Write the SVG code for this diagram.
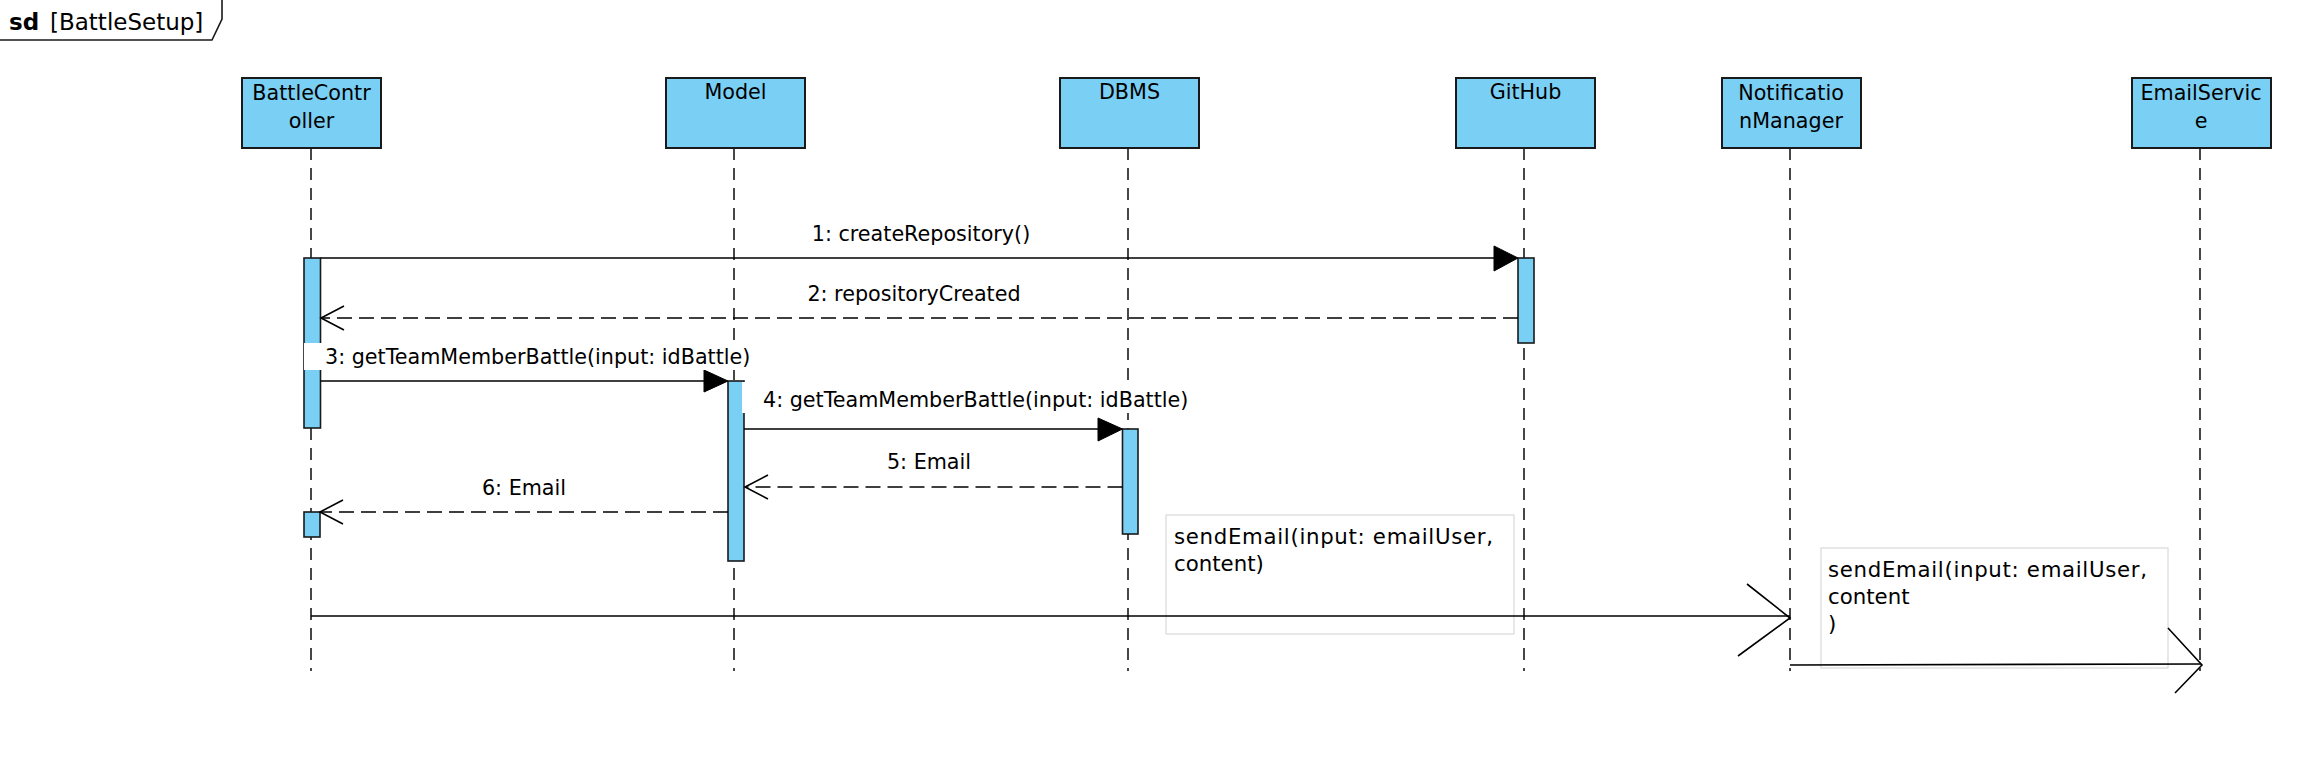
<svg xmlns="http://www.w3.org/2000/svg" width="2312" height="762" viewBox="0 0 2312 762">
<style>
text{font-family:"DejaVu Sans","Liberation Sans",sans-serif;fill:#000}
.hd{fill:#7acff4;stroke:#1a1a1a;stroke-width:2}
.bar{fill:#7acff4;stroke:#1a1a1a;stroke-width:1.6}
.ll{stroke:#1a1a1a;stroke-width:1.6;stroke-dasharray:12 8;fill:none}
.nt{font-size:20.7px;text-anchor:middle}
.msg{stroke:#000;stroke-width:1.6;fill:none}
.ret{stroke:#000;stroke-width:1.6;fill:none;stroke-dasharray:15 7}
.arm{stroke:#000;stroke-width:1.6;fill:none}
.tri{fill:#000;stroke:#000;stroke-width:1}
.lb{font-size:20.7px}
.lbm{font-size:20.7px;text-anchor:middle}
.note{fill:#fff;stroke:#d9d9d9;stroke-width:1.2}
.ntx{font-size:21.3px}
</style>
<rect width="2312" height="762" fill="#fff"/>
<g id="frame">
<polyline points="0,40 212,40 222,19 222,0" fill="none" stroke="#1a1a1a" stroke-width="1.6"/>
<text x="9" y="30" font-size="23" font-weight="bold">sd</text>
<text x="50" y="30" font-size="23">[BattleSetup]</text>
</g>
<g id="BattleController">
<line class="ll" x1="311" y1="148" x2="311" y2="671"/>
<rect class="hd" x="242" y="78" width="139" height="70"/>
<text class="nt" x="311.5" y="100">BattleContr</text>
<text class="nt" x="311.5" y="128">oller</text>
<rect class="bar" x="304" y="258" width="16.5" height="170"/>
<rect class="bar" x="304" y="512" width="16" height="25"/>
</g>
<g id="Model">
<line class="ll" x1="734" y1="148" x2="734" y2="671"/>
<rect class="hd" x="666" y="78" width="139" height="70"/>
<text class="nt" x="735.5" y="99">Model</text>
<rect class="bar" x="728" y="381" width="16" height="180"/>
</g>
<g id="DBMS">
<line class="ll" x1="1128" y1="148" x2="1128" y2="671"/>
<rect class="hd" x="1060" y="78" width="139" height="70"/>
<text class="nt" x="1129.5" y="99">DBMS</text>
<rect class="bar" x="1122.5" y="429" width="15.5" height="105"/>
</g>
<g id="GitHub">
<line class="ll" x1="1524" y1="148" x2="1524" y2="671"/>
<rect class="hd" x="1456" y="78" width="139" height="70"/>
<text class="nt" x="1525.5" y="99">GitHub</text>
<rect class="bar" x="1518" y="258" width="16" height="85"/>
</g>
<g id="NotificationManager">
<line class="ll" x1="1790" y1="148" x2="1790" y2="671"/>
<rect class="hd" x="1722" y="78" width="139" height="70"/>
<text class="nt" x="1791" y="100">Notificatio</text>
<text class="nt" x="1791" y="128">nManager</text>
</g>
<g id="EmailService">
<line class="ll" x1="2200" y1="148" x2="2200" y2="671"/>
<rect class="hd" x="2132" y="78" width="139" height="70"/>
<text class="nt" x="2201" y="100">EmailServic</text>
<text class="nt" x="2201" y="128">e</text>
</g>
<g id="note1">
<rect class="note" x="1166" y="515" width="348" height="119"/>
<text class="ntx" x="1174" y="544" textLength="319" lengthAdjust="spacing">sendEmail(input: emailUser,</text>
<text class="ntx" x="1174" y="571">content)</text>
</g>
<g id="note2">
<rect class="note" x="1821" y="548" width="347" height="120"/>
<text class="ntx" x="1828" y="577" textLength="319" lengthAdjust="spacing">sendEmail(input: emailUser,</text>
<text class="ntx" x="1828" y="604">content</text>
<text class="ntx" x="1828" y="631">)</text>
</g>
<g id="connectors">
<g id="m1">
<line class="msg" x1="320.5" y1="258" x2="1500" y2="258"/>
<polygon class="tri" points="1494,246 1518,258 1494,271"/>
<text class="lbm" x="921" y="241">1: createRepository()</text>
</g>
<g id="m2">
<line class="ret" x1="1518" y1="318" x2="322" y2="318"/>
<polyline class="arm" points="344,306 321,318 344,330"/>
<text class="lbm" x="914" y="301">2: repositoryCreated</text>
</g>
<g id="m3">
<line class="msg" x1="320.5" y1="381" x2="710" y2="381"/>
<polygon class="tri" points="704,370 728,381 704,392"/>
<rect x="304" y="343" width="453" height="27" fill="#fff"/>
<text class="lb" x="325" y="364">3: getTeamMemberBattle(input: idBattle)</text>
</g>
<g id="m4">
<line class="msg" x1="744" y1="429" x2="1105" y2="429"/>
<polygon class="tri" points="1098,418 1122.5,429 1098,441"/>
<rect x="742" y="382" width="453" height="31" fill="#fff"/>
<text class="lb" x="763" y="407">4: getTeamMemberBattle(input: idBattle)</text>
</g>
<g id="m5">
<line class="ret" x1="1122.5" y1="487" x2="746" y2="487"/>
<polyline class="arm" points="768,475 745,487 768,499"/>
<text class="lbm" x="929" y="469">5: Email</text>
</g>
<g id="m6">
<line class="ret" x1="728" y1="512" x2="321" y2="512"/>
<polyline class="arm" points="343,500 320,512 343,524"/>
<text class="lbm" x="524" y="495">6: Email</text>
</g>
<g id="m7">
<line class="msg" x1="311" y1="616" x2="1790" y2="616"/>
<polyline class="arm" points="1747,584 1790,618 1738,656"/>
</g>
<g id="m8">
<line class="msg" x1="1790" y1="665" x2="2201" y2="664"/>
<polyline class="arm" points="2168,628 2202,665 2175,693"/>
</g>
</g>
</svg>
